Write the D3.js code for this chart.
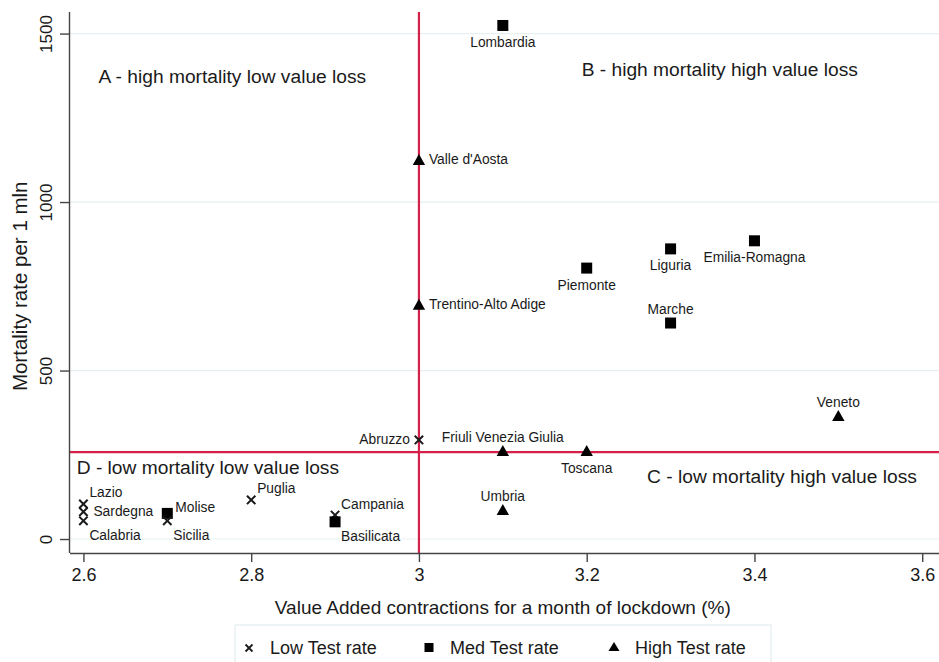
<!DOCTYPE html>
<html>
<head>
<meta charset="utf-8">
<script src="https://cdn.jsdelivr.net/npm/d3@7"></script>
<style>
  html, body { margin: 0; padding: 0; background: #fff; }
  svg { display: block; font-family: "Liberation Sans", Arial, Helvetica, sans-serif; }
</style>
</head>
<body>
<svg id="chart" width="939" height="662"></svg>
<script>
// ---- data ----
const regions = ["Lombardia","Valle d'Aosta","Trentino-Alto Adige","Piemonte","Liguria","Emilia-Romagna","Marche","Veneto","Abruzzo","Friuli Venezia Giulia","Toscana","Umbria","Lazio","Sardegna","Calabria","Molise","Sicilia","Puglia","Campania","Basilicata"];
const valueLoss = [3.1, 3.0, 3.0, 3.2, 3.3, 3.4, 3.3, 3.5, 3.0, 3.1, 3.2, 3.1, 2.6, 2.6, 2.6, 2.7, 2.7, 2.8, 2.9, 2.9];
const mortality = [1524, 1125, 695, 804, 861, 885, 641, 365, 294, 261, 261, 86, 104, 81, 54, 76, 54, 116, 71, 51];
const testRate = ["Med","High","High","Med","Med","Med","Med","High","Low","High","High","High","Low","Low","Low","Med","Low","Low","Low","Med"];
const labelClock = [6, 3, 3, 6, 6, 6, 12, 12, 9, 12, 6, 12, 1, 3, 5, 2, 5, 1, 1, 5];
const xTicks = [2.6, 2.8, 3, 3.2, 3.4, 3.6];
const yTicks = [0, 500, 1000, 1500];
const thresholdX = 3.0;
const thresholdY = 258;
const quadrantLabels = ["A - high mortality low value loss","B - high mortality high value loss","C - low mortality high value loss","D - low mortality low value loss"];
const legendNames = ["Low Test rate","Med Test rate","High Test rate"];
const legendKeys = ["Low","Med","High"];
const xTitle = "Value Added contractions for a month of lockdown (%)";
const yTitle = "Mortality rate per 1 mln";

// ---- layout ----
const svg = d3.select("#chart");
const pLeft = 70, pRight = 939, pTop = 12, pBottom = 553;
const x = d3.scaleLinear().domain([2.584, 3.62]).range([pLeft, pRight]);
const y = d3.scaleLinear().domain([-41.5, 1564]).range([pBottom, pTop]);
const ink = "#1a1a1a";
const red = "#d3214a";

// gridlines
svg.append("g").selectAll("line").data(yTicks).join("line")
  .attr("x1", pLeft).attr("x2", pRight)
  .attr("y1", d => y(d)).attr("y2", d => y(d))
  .attr("stroke", "#e6eff2").attr("stroke-width", 1.2);

// threshold lines
svg.append("line").attr("x1", x(thresholdX)).attr("x2", x(thresholdX))
  .attr("y1", pTop).attr("y2", pBottom).attr("stroke", red).attr("stroke-width", 2.2);
svg.append("line").attr("x1", pLeft).attr("x2", pRight)
  .attr("y1", y(thresholdY)).attr("y2", y(thresholdY)).attr("stroke", red).attr("stroke-width", 2.2);

// axes
const xAxis = d3.axisBottom(x).tickValues(xTicks).tickSize(9).tickPadding(6).tickFormat(d3.format("~g"));
const gx = svg.append("g").attr("transform", `translate(0,${pBottom})`).call(xAxis);
gx.select(".domain").attr("d", `M${pLeft},0.5H${pRight}`).attr("stroke", "#444").attr("stroke-width", 1.4);
gx.selectAll(".tick line").attr("stroke", "#444").attr("stroke-width", 1.4);
gx.selectAll(".tick text").attr("font-size", 18).attr("fill", ink).attr("font-family", "Liberation Sans, Arial, sans-serif");

const yAxis = d3.axisLeft(y).tickValues(yTicks).tickSize(10).tickPadding(0).tickFormat(d3.format("d"));
const gy = svg.append("g").attr("transform", `translate(${pLeft},0)`).call(yAxis);
gy.select(".domain").attr("d", `M-0.5,${pTop}V${pBottom}`).attr("stroke", "#444").attr("stroke-width", 1.4);
gy.selectAll(".tick line").attr("stroke", "#444").attr("stroke-width", 1.4);
gy.selectAll(".tick text")
  .attr("font-size", 17).attr("fill", ink).attr("font-family", "Liberation Sans, Arial, sans-serif")
  .attr("text-anchor", "middle").attr("dy", null).attr("x", null)
  .attr("transform", "translate(-24,0) rotate(-90)")
  .attr("dominant-baseline", "central");

// axis titles
svg.append("text").attr("x", (x(2.6) + x(3.6)) / 2).attr("y", 614)
  .attr("text-anchor", "middle").attr("font-size", 19).attr("fill", ink).text(xTitle);
svg.append("text").attr("transform", `translate(27,${(y(0)+y(1500))/2}) rotate(-90)`)
  .attr("text-anchor", "middle").attr("font-size", 20.5).attr("fill", ink).text(yTitle);

// quadrant labels
const qPos = [[2.618, 1374], [3.194, 1392], [3.272, 187], [2.592, 211]];
svg.append("g").selectAll("text").data(quadrantLabels).join("text")
  .attr("x", (d, i) => x(qPos[i][0])).attr("y", (d, i) => y(qPos[i][1]))
  .attr("dominant-baseline", "central")
  .attr("font-size", 19.2).attr("fill", ink).text(d => d);

// markers
const pts = regions.map((r, i) => ({ name: r, vx: valueLoss[i], vy: mortality[i], t: testRate[i], c: labelClock[i] }));
function drawMarker(g, t, cx, cy) {
  if (t === "Low") {
    const s = 4.2;
    g.append("path").attr("d", `M${cx-s},${cy-s}L${cx+s},${cy+s}M${cx-s},${cy+s}L${cx+s},${cy-s}`)
      .attr("stroke", ink).attr("stroke-width", 2).attr("fill", "none");
  } else if (t === "Med") {
    g.append("rect").attr("x", cx - 5.5).attr("y", cy - 5.5).attr("width", 11).attr("height", 11).attr("fill", "#000");
  } else {
    g.append("path").attr("d", `M${cx},${cy-6}L${cx+6.2},${cy+5}L${cx-6.2},${cy+5}Z`).attr("fill", "#000");
  }
}
const gm = svg.append("g");
pts.forEach(p => drawMarker(gm, p.t, x(p.vx), y(p.vy)));

// marker labels (clock positions)
const off = {
  12: { dx: 0, dy: -14, a: "middle" },
  6: { dx: 0, dy: 17, a: "middle" },
  3: { dx: 10, dy: 0, a: "start" },
  9: { dx: -9, dy: 0, a: "end" },
  1: { dx: 6, dy: -11, a: "start" },
  2: { dx: 8, dy: -6, a: "start" },
  5: { dx: 6, dy: 15, a: "start" }
};
svg.append("g").selectAll("text").data(pts).join("text")
  .attr("x", d => x(d.vx) + off[d.c].dx)
  .attr("y", d => y(d.vy) + off[d.c].dy)
  .attr("text-anchor", d => off[d.c].a)
  .attr("dominant-baseline", "central")
  .attr("font-size", 13.8).attr("fill", ink).text(d => d.name);

// legend
const lg = svg.append("g");
lg.append("rect").attr("x", 235).attr("y", 625).attr("width", 536).attr("height", 50)
  .attr("fill", "none").attr("stroke", "#e3edf0").attr("stroke-width", 1.2);
const legX = [249, 429, 614];
legendKeys.forEach((k, i) => {
  const g = lg.append("g");
  const cx = legX[i], cy = 648;
  if (k === "Low") {
    const s = 3.5;
    g.append("path").attr("d", `M${cx-s},${cy-s}L${cx+s},${cy+s}M${cx-s},${cy+s}L${cx+s},${cy-s}`)
      .attr("stroke", ink).attr("stroke-width", 1.8);
  } else if (k === "Med") {
    g.append("rect").attr("x", cx - 4.5).attr("y", cy - 5).attr("width", 9).attr("height", 9).attr("fill", "#000");
  } else {
    g.append("path").attr("d", `M${cx},${cy-6}L${cx+5.5},${cy+3}L${cx-5.5},${cy+3}Z`).attr("fill", "#000");
  }
  lg.append("text").attr("x", cx + 21).attr("y", cy).attr("dominant-baseline", "central")
    .attr("font-size", 18).attr("fill", ink).text(legendNames[i]);
});
</script>
</body>
</html>
